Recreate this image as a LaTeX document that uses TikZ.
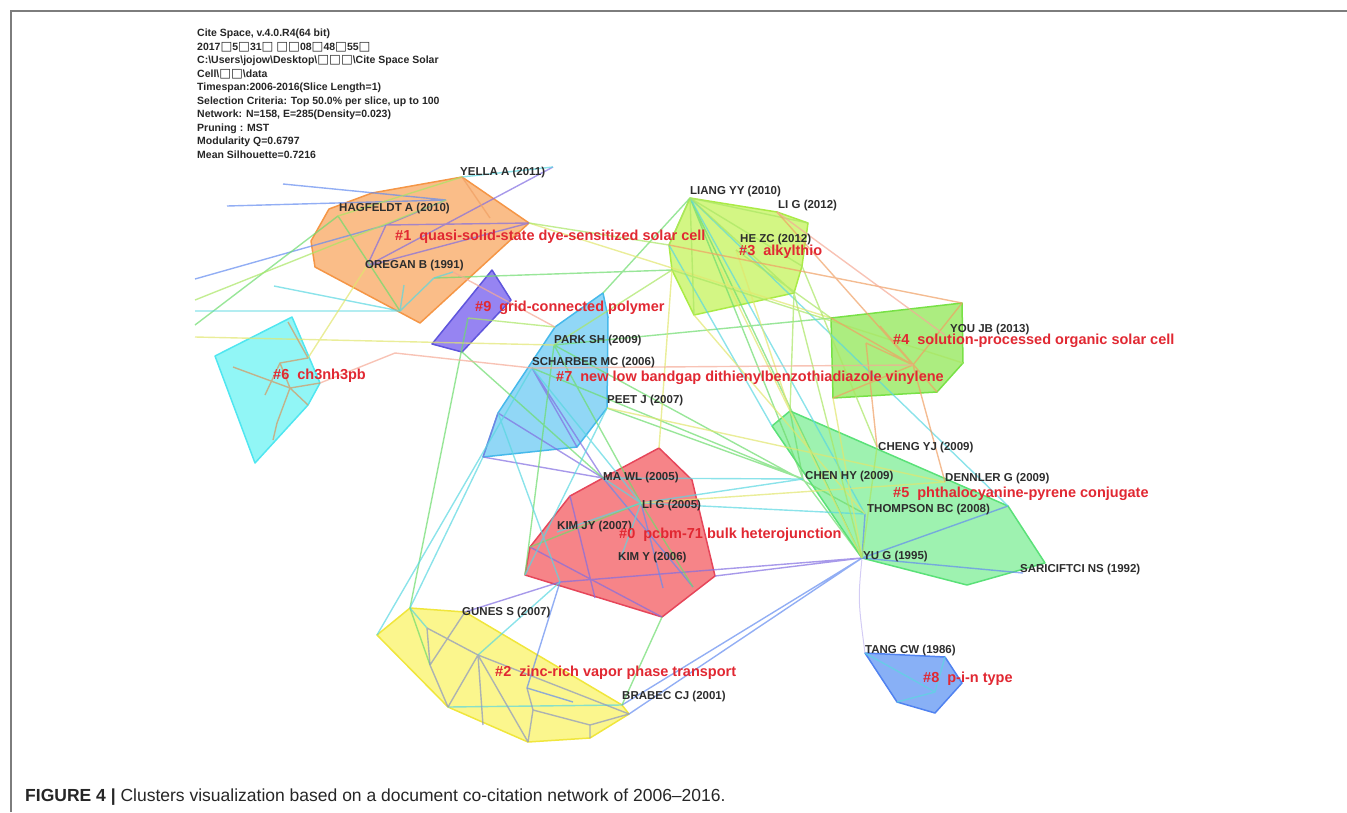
\documentclass[tikz,border=0pt]{standalone}
\usepackage{fontspec}
\setmainfont{Liberation Sans}
\newfontfamily\boxfont{DejaVu Sans}
\newcommand{\bx}{{\boxfont\fontsize{12.5}{12.5}\selectfont □}}
\definecolor{framegray}{RGB}{125,125,125}
\definecolor{lblgray}{RGB}{45,45,45}
\definecolor{clred}{RGB}{225,40,50}
\definecolor{hOrange}{RGB}{249,180,120}\definecolor{lOrange}{RGB}{245,150,70}
\definecolor{hPurple}{RGB}{135,115,240}\definecolor{lPurple}{RGB}{95,85,220}
\definecolor{hCyan}{RGB}{130,245,245}\definecolor{lCyan}{RGB}{80,230,240}
\definecolor{hBlue}{RGB}{130,210,245}\definecolor{lBlue}{RGB}{70,185,235}
\definecolor{hLime}{RGB}{205,245,115}\definecolor{lLime}{RGB}{170,235,70}
\definecolor{hGreen}{RGB}{160,235,110}\definecolor{lGreen}{RGB}{120,225,70}
\definecolor{hMint}{RGB}{145,240,165}\definecolor{lMint}{RGB}{90,225,120}
\definecolor{hRed}{RGB}{245,115,120}\definecolor{lRed}{RGB}{230,70,90}
\definecolor{hYellow}{RGB}{250,245,125}\definecolor{lYellow}{RGB}{240,230,60}
\definecolor{hSky}{RGB}{120,165,245}\definecolor{lSky}{RGB}{80,130,240}
\definecolor{eGreen}{RGB}{110,220,110}
\definecolor{eCyan}{RGB}{90,215,225}
\definecolor{eYel}{RGB}{225,230,110}
\definecolor{eOra}{RGB}{240,160,100}
\definecolor{eBlu}{RGB}{100,140,240}
\definecolor{ePur}{RGB}{130,110,225}
\definecolor{eLgr}{RGB}{170,230,100}
\definecolor{eGry}{RGB}{140,150,195}
\definecolor{ePink}{RGB}{245,170,150}
\definecolor{eBrown}{RGB}{215,150,95}

\begin{document}
\begin{tikzpicture}[x=1pt,y=-1pt,
    lbl/.style={font=\fontsize{11.5}{13}\selectfont\bfseries,text=lblgray,inner sep=0pt,anchor=west},
    clab/.style={font=\fontsize{14.5}{16}\selectfont\bfseries,text=clred,inner sep=0pt,anchor=west},
    lnk/.style={line width=1.4pt,draw opacity=0.7,line join=round},
    hull/.style={line width=1.5pt,fill opacity=0.88,line join=round}]
			%%%%% START %%%%%
			\useasboundingbox (0,0) rectangle (1347,812);
			\draw[framegray, line width=1.5pt] (11,812) -- (11,11) -- (1347,11);

			% network nodes
			\coordinate (yella) at (462,177); \coordinate (hagf) at (338,216); \coordinate (oreg) at (367,266);
			\coordinate (c1a) at (386,225); \coordinate (c1b) at (446,200); \coordinate (c1c) at (529,223);
			\coordinate (c1d) at (400,311); \coordinate (c1e) at (434,278); \coordinate (c1f) at (404,285);
			\coordinate (c1g) at (453,272); \coordinate (c1i) at (490,218);
			\coordinate (c9c) at (462,352); \coordinate (c9e) at (468,318);
			\coordinate (c6a) at (288,322); \coordinate (c6b) at (308,358); \coordinate (c6c) at (280,363);
			\coordinate (c6d) at (290,388); \coordinate (c6e) at (265,395); \coordinate (c6f) at (233,367);
			\coordinate (c6g) at (277,423); \coordinate (c6h) at (273,440); \coordinate (c6i) at (308,405);
			\coordinate (c6j) at (320,383);
			\coordinate (park) at (554,345); \coordinate (scha) at (532,368); \coordinate (peet) at (607,408);
			\coordinate (c7a) at (603,293); \coordinate (c7c) at (577,447); \coordinate (c7d) at (483,457);
			\coordinate (c7e) at (498,413); \coordinate (c7f) at (555,327);
			\coordinate (liang) at (690,198); \coordinate (lig12) at (777,212); \coordinate (hezc) at (736,250);
			\coordinate (c3a) at (669,245); \coordinate (c3b) at (672,270); \coordinate (c3c) at (694,315);
			\coordinate (c3d) at (802,266); \coordinate (c3e) at (794,293); \coordinate (c3f) at (808,223);
			\coordinate (c3g) at (720,268);
			\coordinate (youjb) at (945,335); \coordinate (c4a) at (831,318); \coordinate (c4b) at (962,303);
			\coordinate (c4c) at (963,363); \coordinate (c4d) at (937,392); \coordinate (c4e) at (833,398);
			\coordinate (c4f) at (913,365); \coordinate (c4g) at (866,343); \coordinate (c4h) at (880,326);
			\coordinate (chenhy) at (803,479); \coordinate (chengyj) at (877,447); \coordinate (dennler) at (945,482);
			\coordinate (thomp) at (865,514); \coordinate (yug) at (862,558); \coordinate (sari) at (1023,573);
			\coordinate (c5a) at (790,411); \coordinate (c5b) at (772,426); \coordinate (c5c) at (1008,506);
			\coordinate (mawl) at (603,478); \coordinate (lig05) at (641,503); \coordinate (kimjy) at (557,532);
			\coordinate (kimy) at (620,560); \coordinate (c0a) at (659,448); \coordinate (c0c) at (715,576);
			\coordinate (c0d) at (662,617); \coordinate (c0e) at (525,575); \coordinate (c0f) at (530,547);
			\coordinate (c0g) at (570,496); \coordinate (c0h) at (560,582); \coordinate (c0i) at (595,598);
			\coordinate (c0j) at (663,588); \coordinate (c0k) at (693,587);
			\coordinate (gunes) at (465,612); \coordinate (brabec) at (622,705);
			\coordinate (c2a) at (377,635); \coordinate (c2b) at (410,608); \coordinate (c2n) at (427,628);
			\coordinate (c2c) at (430,665); \coordinate (c2d) at (478,655); \coordinate (c2e) at (483,725);
			\coordinate (c2f) at (527,688); \coordinate (c2g) at (533,710); \coordinate (c2h) at (573,702);
			\coordinate (c2i) at (590,725); \coordinate (c2j) at (590,738); \coordinate (c2k) at (528,742);
			\coordinate (c2l) at (448,707); \coordinate (c2m) at (629,714);
			\coordinate (tang) at (865,653); \coordinate (c8a) at (945,657); \coordinate (c8b) at (962,683);
			\coordinate (c8c) at (935,713); \coordinate (c8d) at (897,702); \coordinate (c8e) at (935,692);
			% loose ends at the clipped left border
			\coordinate (w1) at (195,279); \coordinate (w2) at (195,311); \coordinate (w3) at (195,325);
			\coordinate (w4) at (195,337); \coordinate (w5) at (195,300); \coordinate (w6) at (227,206);
			\coordinate (w7) at (283,184); \coordinate (w8) at (274,286); \coordinate (t1) at (553,167);
			\coordinate (p1) at (395,353);

			% cluster hulls
			\draw[hull, fill=hOrange, draw=lOrange] (372,193) -- (yella) -- (c1c) -- (420,323) -- (315,267) -- (311,241) -- (329,209) -- cycle;
			\draw[hull, fill=hPurple, draw=lPurple] (492,270) -- (511,300) -- (c9c) -- (432,344) -- cycle;
			\draw[hull, fill=hCyan, draw=lCyan] (215,356) -- (292,317) -- (c6j) -- (c6i) -- (255,463) -- cycle;
			\draw[hull, fill=hBlue, draw=lBlue] (c7a) -- (608,317) -- (607,408) -- (c7c) -- (c7d) -- (c7e) -- (c7f) -- cycle;
			\draw[hull, fill=hLime, draw=lLime] (liang) -- (lig12) -- (c3f) -- (c3d) -- (c3e) -- (c3c) -- (c3b) -- (c3a) -- cycle;
			\draw[hull, fill=hGreen, draw=lGreen] (c4a) -- (c4b) -- (c4c) -- (c4d) -- (c4e) -- cycle;
			\draw[hull, fill=hMint, draw=lMint] (c5a) -- (c5c) -- (1045,563) -- (967,585) -- (yug) -- (c5b) -- cycle;
			\draw[hull, fill=hRed, draw=lRed] (c0a) -- (692,480) -- (c0c) -- (c0d) -- (c0e) -- (c0f) -- (c0g) -- (mawl) -- cycle;
			\draw[hull, fill=hYellow, draw=lYellow] (c2a) -- (c2b) -- (gunes) -- (brabec) -- (c2m) -- (c2j) -- (c2k) -- (c2l) -- cycle;
			\draw[hull, fill=hSky, draw=lSky] (tang) -- (c8a) -- (c8b) -- (c8c) -- (c8d) -- cycle;

			% co-citation links
			\draw[lnk, ePur] (oreg) -- (c1a) -- (c1c) (oreg) -- (c1c) (c1a) -- (c1b) (oreg) -- (t1) (mawl) -- (scha)
			  (mawl) -- (c7e) (mawl) -- (c7d) (c7e) -- (c7d) (yug) -- (c0c) (yug) -- (c0h) (gunes) -- (c0h) (c0g) -- (c0i)
			  (scha) -- (c7c) (c0f) -- (c0d);
			\draw[lnk, ePur!50, line width=1pt] (yug) .. controls (858,600) .. (tang);
			\draw[lnk, eBlu] (w1) -- (c1a) (w6) -- (c1b) (w7) -- (c1b) (yug) -- (brabec) (yug) -- (c2m) (yug) -- (sari)
			  (yug) -- (c5c) (c0h) -- (c2f) (c2f) -- (c2h) (mawl) -- (c0k) (lig05) -- (c0j) (yug) -- (thomp);
			\draw[lnk, eGreen] (w3) -- (hagf) -- (c1d) (c9e) -- (c2b) (c9c) -- (mawl) (c7a) -- (liang) (park) -- (c4a)
			  (peet) -- (chenhy) (scha) -- (chenhy) (park) -- (thomp) (liang) -- (chenhy) (liang) -- (yug) (lig05) -- (park)
			  (lig05) -- (c0k) (lig05) -- (c0f) (c0d) -- (brabec) (c2b) -- (c2c) (c1e) -- (c3b) (park) -- (c0e)
			  (chenhy) -- (yug) (c5a) -- (chenhy);
			\draw[lnk, eCyan] (w2) -- (c1d) (w8) -- (c1d) (c1d) -- (c1e) -- (c1g) (c1f) -- (c1d) (yella) -- (t1)
			  (lig05) -- (scha) (lig05) -- (chenhy) (lig05) -- (thomp) (mawl) -- (chenhy) (liang) -- (thomp)
			  (lig05) -- (mawl) (lig05) -- (kimjy) (lig05) -- (kimy) (c7d) -- (c2b) (c2d) -- (c0h) (c2l) -- (brabec)
			  (tang) -- (c8e) -- (c8a) (c8d) -- (c8e) (peet) -- (c0e) (c3a) -- (c5b) (c2b) -- (c2n) (scha) -- (c2a)
			  (liang) -- (c5c) (c7e) -- (c0h);
			\draw[lnk, eYel] (w4) -- (park) (c6b) -- (oreg) (c3c) -- (thomp) (c3g) -- (yug) (c4e) -- (yug)
			  (peet) -- (dennler) (lig05) -- (dennler) (c3b) -- (c0a) (c1c) -- (c4a) (hezc) -- (c5a);
			\draw[lnk, eLgr] (yella) -- (hagf) (w5) -- (c1b) (liang) -- (c3a) (liang) -- (c3c) (liang) -- (c3d)
			  (liang) -- (c3e) (liang) -- (c3f) (hezc) -- (c4a) (c3b) -- (c4c) (c1c) -- (c3a) (c3e) -- (c5a)
			  (c3d) -- (chengyj) (c3e) -- (yug) (park) -- (c3b) (chengyj) -- (yug) (c9e) -- (c7f);
			\draw[lnk, eOra] (lig12) -- (c4f) (c4a) -- (c4f) (c4h) -- (c4d) (c4f) -- (c4b) (c4e) -- (c4f)
			  (c4f) -- (dennler) (c4g) -- (chengyj) (c1i) -- (yella) (c3a) -- (c4b) (c4f) -- (c4g);
			\draw[lnk, ePink] (c6j) -- (p1) -- (scha) (scha) -- (c4f) (c1g) -- (c7f) (lig12) -- (youjb);
			\draw[lnk, eBrown] (c6a) -- (c6b) -- (c6c) -- (c6d) (c6f) -- (c6d) -- (c6j) (c6d) -- (c6i)
			  (c6d) -- (c6g) -- (c6h) (c6e) -- (c6c);
			\draw[lnk, eGry] (c2n) -- (c2d) -- (c2m) (c2d) -- (c2l) (c2d) -- (c2k) (c2n) -- (c2c) -- (c2l)
			  (c2c) -- (gunes) (c2f) -- (c2g) -- (c2k) (c2g) -- (c2i) -- (c2j) (c2e) -- (c2d) (c2i) -- (c2m);

			% reference labels
			\node[lbl] (yellaL) at (460,173) {YELLA A (2011)};
			\node[lbl] (hagfL) at (339,209) {HAGFELDT A (2010)};
			\node[lbl] (oregL) at (365,266) {OREGAN B (1991)};
			\node[lbl] (parkL) at (554,341) {PARK SH (2009)};
			\node[lbl] (schaL) at (532,363) {SCHARBER MC (2006)};
			\node[lbl] (peetL) at (607,401) {PEET J (2007)};
			\node[lbl] (liangL) at (690,192) {LIANG YY (2010)};
			\node[lbl] (lig12L) at (778,206) {LI G (2012)};
			\node[lbl] (hezcL) at (740,240) {HE ZC (2012)};
			\node[lbl] (youjbL) at (950,330) {YOU JB (2013)};
			\node[lbl] (chengyjL) at (878,448) {CHENG YJ (2009)};
			\node[lbl] (chenhyL) at (805,477) {CHEN HY (2009)};
			\node[lbl] (dennlerL) at (945,479) {DENNLER G (2009)};
			\node[lbl] (thompL) at (867,510) {THOMPSON BC (2008)};
			\node[lbl] (yugL) at (863,557) {YU G (1995)};
			\node[lbl] (sariL) at (1020,570) {SARICIFTCI NS (1992)};
			\node[lbl] (mawlL) at (603,478) {MA WL (2005)};
			\node[lbl] (lig05L) at (642,506) {LI G (2005)};
			\node[lbl] (kimjyL) at (557,527) {KIM JY (2007)};
			\node[lbl] (kimyL) at (618,558) {KIM Y (2006)};
			\node[lbl] (gunesL) at (462,613) {GUNES S (2007)};
			\node[lbl] (brabecL) at (622,697) {BRABEC CJ (2001)};
			\node[lbl] (tangL) at (865,651) {TANG CW (1986)};

			% cluster labels
			\node[clab] (k1) at (395,237) {\#1\ \ quasi-solid-state dye-sensitized solar cell};
			\node[clab] (k9) at (475,308) {\#9\ \ grid-connected polymer};
			\node[clab] (k6) at (273,376) {\#6\ \ ch3nh3pb};
			\node[clab] (k3) at (739,252) {\#3\ \ alkylthio};
			\node[clab] (k4) at (893,341) {\#4\ \ solution-processed organic solar cell};
			\node[clab] (k7) at (556,378) {\#7\ \ new low bandgap dithienylbenzothiadiazole vinylene};
			\node[clab] (k5) at (893,494) {\#5\ \ phthalocyanine-pyrene conjugate};
			\node[clab] (k0) at (619,535) {\#0\ \ pcbm-71 bulk heterojunction};
			\node[clab] (k2) at (495,673) {\#2\ \ zinc-rich vapor phase transport};
			\node[clab] (k8) at (923,679) {\#8\ \ p-i-n type};

			% run summary
			\node[anchor=north west, inner sep=0pt, align=left, text=black!85,
			  font=\fontsize{10.5}{13.5}\selectfont\bfseries] (info) at (197,29) {Cite Space, v.4.0.R4(64 bit)\\
			  2017\bx5\bx31\bx\ \bx\bx08\bx48\bx55\bx\\
			  C:\textbackslash Users\textbackslash jojow\textbackslash Desktop\textbackslash\bx\bx\bx\textbackslash Cite Space Solar\\
			  Cell\textbackslash\bx\bx\textbackslash data\\
			  Timespan:2006-2016(Slice Length=1)\\
			  Selection Criteria: Top 50.0\% per slice, up to 100\\
			  Network: N=158, E=285(Density=0.023)\\
			  Pruning : MST\\
			  Modularity Q=0.6797\\
			  Mean Silhouette=0.7216};

			% caption
			\node[anchor=west, inner sep=0pt, font=\fontsize{17.5}{19}\selectfont, text=black!85] (cap) at (25,797)
			  {\textbf{FIGURE 4 |} Clusters visualization based on a document co-citation network of 2006--2016.};
			%%%%% END %%%%%
\end{tikzpicture}
\end{document}
